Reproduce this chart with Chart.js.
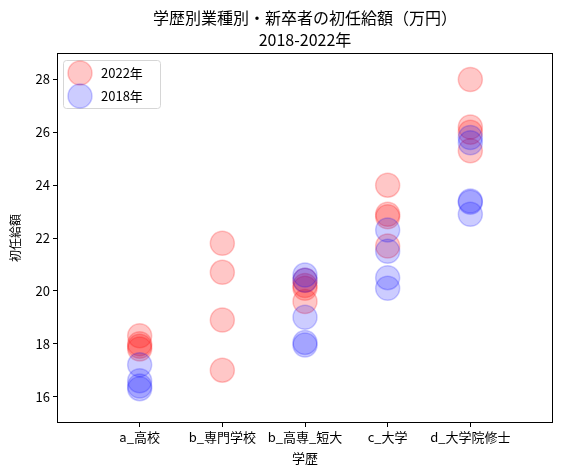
<!DOCTYPE html>
<html lang="ja">
<head>
    <meta charset="UTF-8">
    <title>学歴別初任給額</title>
    <script src="https://cdn.jsdelivr.net/npm/chart.js"></script>
    <style>
        html, body { margin: 0; padding: 0; background: #fff; }
        #wrap { width: 562px; height: 476px; }
    </style>
</head>
<body>
    <div id="wrap"><canvas id="myChart" width="562" height="476"></canvas></div>

    <script>
        // categories (学歴)
        var categories = ['a_高校', 'b_専門学校', 'b_高専_短大', 'c_大学', 'd_大学院修士'];
        var yTicks = [16, 18, 20, 22, 24, 26, 28];
        var years = ['2022年', '2018年'];

        // 初任給額 (万円), one list per category
        var salary2022 = [
            [18.3, 18.0, 17.9, 17.8],
            [21.8, 20.7, 18.9, 17.0],
            [20.4, 20.2, 20.1, 19.6],
            [24.0, 22.9, 22.8, 21.7],
            [28.0, 26.2, 26.0, 25.3]
        ];
        var salary2018 = [
            [17.2, 16.6, 16.4, 16.3],
            [],
            [20.6, 20.4, 19.0, 18.05, 17.95],
            [22.3, 21.5, 20.5, 20.1],
            [25.8, 25.6, 23.4, 23.35, 22.9]
        ];

        var FONT = "'Noto Sans CJK JP', 'DejaVu Sans', sans-serif";
        var RED = 'rgba(255, 0, 0, 0.22)';
        var BLUE = 'rgba(0, 0, 255, 0.2)';

        function toPoints(lists) {
            var pts = [];
            lists.forEach(function (vals, i) {
                vals.forEach(function (v) { pts.push({ x: i, y: v }); });
            });
            return pts;
        }

        // frame, title and inner legend
        var decorations = {
            id: 'decorations',
            afterDraw: function (chart) {
                var ctx = chart.ctx, a = chart.chartArea;
                ctx.save();
                ctx.strokeStyle = '#000';
                ctx.lineWidth = 1;
                ctx.strokeRect(Math.round(a.left) + 0.5, Math.round(a.top) + 0.5,
                    Math.round(a.width) - 1, Math.round(a.height) - 1);

                // title
                var cx = (a.left + a.right) / 2;
                ctx.fillStyle = '#000';
                ctx.textAlign = 'center';
                ctx.textBaseline = 'middle';
                ctx.font = '16px ' + FONT;
                ctx.fillText('学歴別業種別・新卒者の初任給額（万円）', cx, 18);
                ctx.fillText('2018-2022年', cx, 40);

                // legend
                var bx = a.left + 6, by = a.top + 7, bw = 97, bh = 48;
                ctx.beginPath();
                ctx.roundRect(bx + 0.5, by + 0.5, bw, bh, 3);
                ctx.fillStyle = 'rgba(255,255,255,0.8)';
                ctx.fill();
                ctx.strokeStyle = '#d6d6d6';
                ctx.stroke();
                var cols = [RED, BLUE];
                years.forEach(function (label, i) {
                    var y = by + 13 + i * 23;
                    ctx.beginPath();
                    ctx.arc(bx + 17, y, 12, 0, Math.PI * 2);
                    ctx.fillStyle = cols[i];
                    ctx.fill();
                    ctx.strokeStyle = cols[i];
                    ctx.lineWidth = 1.5;
                    ctx.stroke();
                    ctx.fillStyle = '#000';
                    ctx.textAlign = 'left';
                    ctx.font = '13px ' + FONT;
                    ctx.fillText(label, bx + 38, y);
                });
                ctx.restore();
            }
        };

        var ctx = document.getElementById('myChart').getContext('2d');
        var chart = new Chart(ctx, {
            type: 'scatter',
            data: {
                datasets: [{
                    label: years[0],
                    data: toPoints(salary2022),
                    backgroundColor: RED,
                    borderColor: RED,
                    borderWidth: 1.5,
                    pointRadius: 12,
                    order: 2
                }, {
                    label: years[1],
                    data: toPoints(salary2018),
                    backgroundColor: BLUE,
                    borderColor: BLUE,
                    borderWidth: 1.5,
                    pointRadius: 12,
                    order: 1
                }]
            },
            options: {
                responsive: false,
                animation: false,
                events: [],
                // autoPadding would reserve room for the big points on the right
                layout: { autoPadding: false, padding: { left: 0, right: 9, top: 53, bottom: 0 } },
                plugins: {
                    legend: { display: false },
                    title: { display: false },
                    tooltip: { enabled: false }
                },
                scales: {
                    x: {
                        type: 'linear',
                        min: -1,
                        max: 5,
                        afterBuildTicks: function (s) {
                            s.ticks = categories.map(function (c, i) { return { value: i }; });
                        },
                        afterFit: function (s) { s.height = 53; },
                        ticks: {
                            color: '#000',
                            font: { family: FONT, size: 13 },
                            padding: 2,
                            maxRotation: 0,
                            autoSkip: false,
                            callback: function (v) { return categories[v]; }
                        },
                        grid: { drawOnChartArea: false, tickLength: 4, color: '#000' },
                        border: { display: false },
                        title: {
                            display: true,
                            text: '学歴',
                            color: '#000',
                            font: { family: FONT, size: 13 },
                            padding: { top: 0, bottom: 10 }
                        }
                    },
                    y: {
                        min: 15,
                        max: 29,
                        afterBuildTicks: function (s) {
                            s.ticks = yTicks.map(function (v) { return { value: v }; });
                        },
                        afterFit: function (s) { s.width = 57; },
                        ticks: {
                            color: '#000',
                            font: { family: FONT, size: 13 },
                            padding: 3
                        },
                        grid: { drawOnChartArea: false, tickLength: 4, color: '#000' },
                        border: { display: false },
                        title: {
                            display: true,
                            text: '初任給額',
                            color: '#000',
                            font: { family: FONT, size: 12 },
                            padding: { top: 8, bottom: 2 }
                        }
                    }
                }
            },
            plugins: [decorations]
        });
    </script>
</body>
</html>
